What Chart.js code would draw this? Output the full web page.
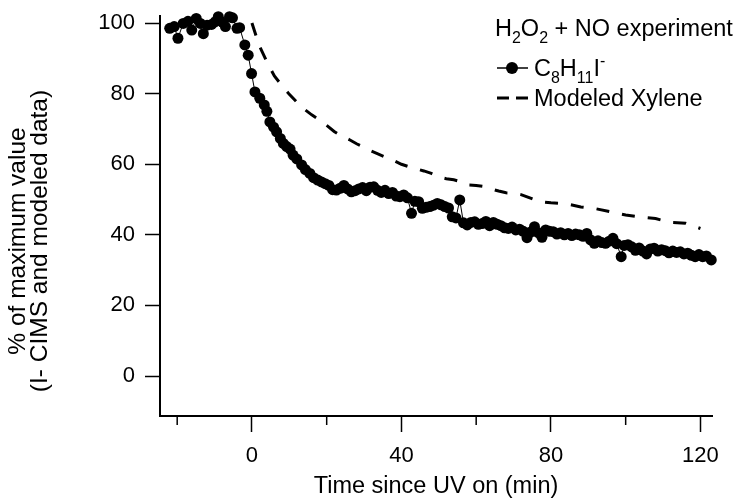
<!DOCTYPE html>
<html>
<head>
<meta charset="utf-8">
<script src="https://cdn.jsdelivr.net/npm/chart.js@4.4.0/dist/chart.umd.min.js"></script>
<style>
html,body{margin:0;padding:0;background:#fff;}
#wrap{width:739px;height:502px;position:relative;}
</style>
</head>
<body>
<div id="wrap"><canvas id="myChart" width="739" height="502"></canvas></div>
<script>
// I- CIMS signal, C8H11I- (time in min since UV on, % of max)
var timeMin = [-22.0,-20.8,-19.8,-18.4,-17.1,-16.1,-14.9,-13.8,-13.0,-12.0,-10.8,-9.8,-9.0,-7.8,-7.1,-6.0,-5.2,-4.0,-3.3,
  -1.9,-1.0,-0.1,0.8,2.1,3.3,4.0,4.8,5.8,6.6,7.6,8.4,9.3,10.2,11.0,12.0,13.3,14.3,15.5,16.5,17.6,18.6,19.6,20.6,21.6,22.6,
  23.6,24.6,25.6,26.6,27.6,28.6,29.6,30.6,31.6,32.6,33.6,34.6,35.6,36.6,37.6,38.6,39.6,40.6,41.6,42.7,43.6,44.6,45.6,46.6,
  47.6,48.6,49.6,50.6,51.6,52.6,53.6,54.6,55.6,56.6,57.6,58.6,59.6,60.6,61.6,62.6,63.6,64.6,65.6,66.6,67.6,68.6,69.6,70.6,
  71.6,72.6,73.6,74.6,75.6,76.6,77.6,78.6,79.6,80.6,81.6,82.6,83.6,84.6,85.6,86.6,87.6,88.6,89.6,90.6,91.6,92.6,93.6,94.6,
  95.6,96.6,97.6,98.8,99.6,100.6,101.6,102.6,103.6,104.6,105.6,106.6,107.6,108.6,109.6,110.6,111.6,112.6,113.6,114.6,115.6,
  116.6,117.6,118.6,119.6,120.6,121.6,122.9];
var ionSignal = [98.5,99.0,95.7,99.9,100.5,98.0,101.3,99.9,97.0,99.4,99.6,100.4,101.8,100.2,99.0,101.8,101.5,98.5,98.7,
  93.8,90.9,85.7,80.5,78.7,76.8,75.0,72.0,70.5,69.2,67.3,65.9,65.0,64.3,62.6,61.5,59.8,58.5,57.4,56.2,55.5,55.0,54.5,54.0,52.8,52.7,
  53.2,54.0,53.0,52.2,52.5,53.0,53.4,52.5,53.5,53.6,52.6,52.0,52.6,51.7,52.0,51.0,50.8,51.3,50.5,46.1,49.5,49.4,47.5,47.8,
  48.0,48.4,48.9,48.5,48.0,47.6,45.1,44.8,49.9,43.4,42.8,43.5,43.7,43.0,43.2,43.8,42.6,43.5,43.0,42.6,42.0,41.8,42.2,41.4,
  41.6,41.0,39.2,40.8,42.3,40.6,39.3,41.4,41.0,40.9,40.2,40.6,40.0,40.4,39.8,40.2,40.0,39.6,40.4,38.6,37.6,38.3,37.8,37.6,
  38.2,39.0,37.5,33.8,37.0,37.2,36.6,35.6,36.3,35.4,34.6,36.0,36.2,35.4,35.8,35.5,34.9,35.4,35.0,35.2,34.6,
  34.8,34.2,33.8,34.4,33.8,34.0,32.9];

// modeled xylene
var modelTime = [0,2,4,6,8,10,12,14,16,18,20,22,24,26,28,30,32,34,36,38,40,42,44,46,48,50,52,54,56,58,60,62,64,66,68,70,72,74,76,78,80,84,88,92,96,100,104,108,112,116,120];
var modelXylene = [100,93.5,89,85,82.3,79.8,77.6,75.6,74,72.6,71,69.3,68,67,65.8,64.8,63.7,62.8,61.9,61,60,59.3,58.7,58.1,57.4,56.4,55.9,55.6,55,54.1,54,53.7,53,52.4,51.9,51.8,51.4,50.6,49.8,49.3,49.1,48.8,47.9,47.4,46.5,45.6,45,44.6,43.5,43.3,41.8];

var xTicks = [-20,0,20,40,60,80,100,120];
var xLabels = [0,40,80,120];
var yTicks = [0,20,40,60,80,100];
var yTitle = ['% of maximum value', '(I- CIMS and modeled data)'];

var FONT = '"Liberation Sans", Arial, sans-serif';

var ionData = timeMin.map(function(t,i){ return {x:t, y:ionSignal[i]}; });
var modelData = modelTime.map(function(t,i){ return {x:t, y:modelXylene[i]}; });

function drawRich(ctx, parts, x, y, size){
    parts.forEach(function(p){
        var s = p[1] ? size*0.68 : size;
        ctx.font = s + 'px ' + FONT;
        var dy = 0;
        if (p[1]=='sub') dy = size*0.28;
        if (p[1]=='sup') dy = -size*0.42;
        ctx.fillText(p[0], x, y+dy);
        x += ctx.measureText(p[0]).width;
    });
}

var extras = {
    id: 'extras',
    afterDraw: function(chart){
        var ctx = chart.ctx;
        var xs = chart.scales.x;
        var bottom = chart.chartArea.bottom;
        ctx.save();
        // minor x ticks
        ctx.strokeStyle = '#000';
        ctx.lineWidth = 1.5;
        xTicks.forEach(function(v){
            if (xLabels.indexOf(v) < 0){
                var px = xs.getPixelForValue(v);
                ctx.beginPath();
                ctx.moveTo(px, bottom);
                ctx.lineTo(px, bottom+9);
                ctx.stroke();
            }
        });
        // y axis title
        ctx.fillStyle = '#000';
        ctx.save();
        ctx.translate(0, 241);
        ctx.rotate(-Math.PI/2);
        ctx.textAlign = 'center';
        ctx.textBaseline = 'middle';
        ctx.font = '24.5px ' + FONT;
        ctx.fillText(yTitle[0], 0, 18);
        ctx.fillText(yTitle[1], 0, 40);
        ctx.restore();
        // legend
        ctx.textBaseline = 'alphabetic';
        drawRich(ctx, [['H'],['2','sub'],['O'],['2','sub'],[' + NO experiment']], 495, 36, 23.5);
        ctx.lineWidth = 1.5;
        ctx.beginPath();
        ctx.moveTo(497, 68); ctx.lineTo(528, 68); ctx.stroke();
        ctx.beginPath();
        ctx.arc(512, 68, 6, 0, Math.PI*2); ctx.fill();
        drawRich(ctx, [['C'],['8','sub'],['H'],['11','sub'],['I'],['-','sup']], 534, 76, 23.5);
        ctx.lineWidth = 3;
        ctx.beginPath();
        ctx.moveTo(497, 98); ctx.lineTo(509, 98);
        ctx.moveTo(516, 98); ctx.lineTo(528, 98);
        ctx.stroke();
        drawRich(ctx, [['Modeled Xylene']], 534, 106, 23.5);
        ctx.restore();
    }
};

var ctx = document.getElementById('myChart').getContext('2d');
var myChart = new Chart(ctx, {
    type: 'line',
    data: {
        datasets: [{
            label: 'C8H11I-',
            data: ionData,
            borderColor: '#000',
            backgroundColor: '#000',
            borderWidth: 1,
            pointRadius: 5.5,
            pointBorderWidth: 0,
            tension: 0,
            clip: false
        },{
            label: 'Modeled Xylene',
            data: modelData,
            borderColor: '#000',
            borderWidth: 3,
            borderDash: [13, 13],
            pointRadius: 0,
            tension: 0
        }]
    },
    options: {
        responsive: false,
        animation: false,
        devicePixelRatio: 1,
        layout: { padding: { left: 0, right: 27, top: 16, bottom: 0 } },
        plugins: { legend: { display: false }, tooltip: { enabled: false } },
        scales: {
            x: {
                type: 'linear',
                min: -24.6,
                max: 123.1,
                afterBuildTicks: function(s){ s.ticks = xTicks.map(function(v){ return {value:v}; }); },
                afterFit: function(s){ s.height = 86; },
                ticks: {
                    color: '#000',
                    font: { family: FONT, size: 22 },
                    padding: 11,
                    maxRotation: 0,
                    autoSkip: false,
                    callback: function(v){ return xLabels.indexOf(v) >= 0 ? String(v) : ''; }
                },
                grid: {
                    drawOnChartArea: false,
                    drawTicks: true,
                    tickLength: 16,
                    tickWidth: 1.5,
                    tickColor: function(c){ return (c.tick && xLabels.indexOf(c.tick.value) >= 0) ? '#000' : 'rgba(0,0,0,0)'; }
                },
                border: { display: true, color: '#000', width: 2 },
                title: {
                    display: true,
                    text: 'Time since UV on (min)',
                    color: '#000',
                    font: { family: FONT, size: 23.5, lineHeight: 1.2 },
                    padding: { top: 0, bottom: 1 }
                }
            },
            y: {
                min: -11.33,
                max: 102,
                afterBuildTicks: function(s){ s.ticks = yTicks.map(function(v){ return {value:v}; }); },
                afterFit: function(s){ s.width = 160; s.paddingTop = 0; s.paddingBottom = 0; },
                ticks: {
                    color: '#000',
                    font: { family: FONT, size: 22 },
                    padding: 10
                },
                grid: {
                    drawOnChartArea: false,
                    drawTicks: true,
                    tickLength: 15,
                    tickWidth: 1.5,
                    tickColor: '#000'
                },
                border: { display: true, color: '#000', width: 2 },
                title: { display: false }
            }
        }
    },
    plugins: [extras]
});
</script>
</body>
</html>
